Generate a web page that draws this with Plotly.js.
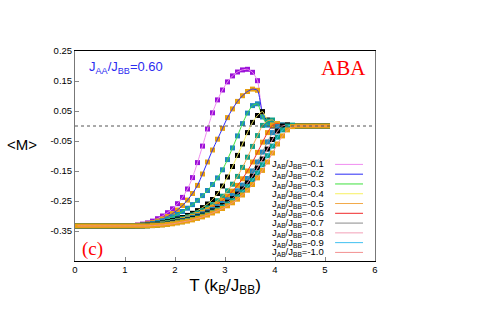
<!DOCTYPE html>
<html><head><meta charset="utf-8">
<script src="https://cdn.plot.ly/plotly-3.0.1.min.js"></script>
<style>html,body{margin:0;padding:0;background:#fff}#chart{width:500px;height:314px}</style>
</head><body><div id="chart"></div>
<script>
const T = [0.05,0.15,0.25,0.35,0.45,0.55,0.65,0.75,0.85,0.95,
1.05,1.15,1.25,1.35,1.45,1.55,1.65,1.75,1.85,1.95,
2.05,2.15,2.25,2.35,2.45,2.55,2.65,2.75,2.85,2.95,
3.05,3.15,3.25,3.35,3.45,3.55,3.65,3.75,3.85,3.95,
4.05,4.15,4.25,4.35,4.45,4.55,4.65,4.75,4.85,4.95,5.05];
const ratios = ["-0.1","-0.2","-0.3","-0.4","-0.5","-0.6","-0.7","-0.8","-0.9","-1.0"];
const m1 = [-0.333,-0.333,-0.333,-0.333,-0.333,-0.333,-0.333,-0.333,-0.333,-0.333,
-0.333,-0.332,-0.330,-0.327,-0.323,-0.317,-0.309,-0.300,-0.289,-0.276,
-0.259,-0.238,-0.210,-0.172,-0.122,-0.067,-0.010,0.044,0.087,0.120,
0.147,0.167,0.180,0.187,0.189,0.179,0.151,0.040,0.005,0,
0,0,0,0,0,0,0,0,0,0,0];
const m2 = [-0.333,-0.333,-0.333,-0.333,-0.333,-0.333,-0.333,-0.333,-0.333,-0.333,
-0.333,-0.332,-0.331,-0.329,-0.326,-0.322,-0.317,-0.310,-0.302,-0.292,
-0.280,-0.265,-0.247,-0.225,-0.198,-0.160,-0.120,-0.080,-0.044,-0.008,
0.028,0.057,0.082,0.101,0.115,0.123,0.119,0.040,0.005,0,
0,0,0,0,0,0,0,0,0,0,0];
const m3 = [-0.333,-0.333,-0.333,-0.333,-0.333,-0.333,-0.333,-0.333,-0.333,-0.333,
-0.333,-0.333,-0.332,-0.330,-0.328,-0.325,-0.321,-0.316,-0.310,-0.303,
-0.295,-0.285,-0.274,-0.262,-0.248,-0.232,-0.215,-0.195,-0.173,-0.146,
-0.112,-0.073,-0.033,0.008,0.043,0.068,0.074,0.030,0.003,0,
0,0,0,0,0,0,0,0,0,0,0];
const m4 = [-0.333,-0.333,-0.333,-0.333,-0.333,-0.333,-0.333,-0.333,-0.333,-0.333,
-0.333,-0.333,-0.332,-0.331,-0.330,-0.328,-0.326,-0.323,-0.319,-0.315,
-0.310,-0.305,-0.298,-0.291,-0.282,-0.272,-0.260,-0.245,-0.225,-0.200,
-0.170,-0.135,-0.098,-0.060,-0.022,0.012,0.035,0.048,0.020,0.003,
0,0,0,0,0,0,0,0,0,0,0];
const m5 = [-0.333,-0.333,-0.333,-0.333,-0.333,-0.333,-0.333,-0.333,-0.333,-0.333,
-0.333,-0.333,-0.333,-0.332,-0.331,-0.329,-0.327,-0.325,-0.322,-0.318,
-0.314,-0.309,-0.303,-0.297,-0.290,-0.282,-0.273,-0.262,-0.249,-0.234,
-0.216,-0.194,-0.168,-0.138,-0.104,-0.068,-0.032,0.002,0.017,0.020,
0.006,0.001,0,0,0,0,0,0,0,0,0];
const m6 = [-0.333,-0.333,-0.333,-0.333,-0.333,-0.333,-0.333,-0.333,-0.333,-0.333,
-0.333,-0.333,-0.333,-0.332,-0.331,-0.330,-0.328,-0.326,-0.324,-0.321,
-0.317,-0.312,-0.307,-0.301,-0.295,-0.288,-0.280,-0.271,-0.260,-0.248,
-0.234,-0.217,-0.198,-0.176,-0.150,-0.120,-0.088,-0.054,-0.022,0.003,
0.008,0.003,0,0,0,0,0,0,0,0,0];
const m7 = [-0.333,-0.333,-0.333,-0.333,-0.333,-0.333,-0.333,-0.333,-0.333,-0.333,
-0.333,-0.333,-0.333,-0.333,-0.332,-0.331,-0.329,-0.327,-0.325,-0.322,
-0.319,-0.315,-0.310,-0.305,-0.299,-0.293,-0.286,-0.278,-0.269,-0.258,
-0.246,-0.232,-0.216,-0.197,-0.175,-0.150,-0.120,-0.087,-0.053,-0.022,
-0.002,0.004,0.001,0,0,0,0,0,0,0,0];
const m8 = [-0.333,-0.333,-0.333,-0.333,-0.333,-0.333,-0.333,-0.333,-0.333,-0.333,
-0.333,-0.333,-0.333,-0.333,-0.332,-0.331,-0.330,-0.328,-0.326,-0.323,
-0.320,-0.317,-0.313,-0.308,-0.303,-0.297,-0.290,-0.283,-0.275,-0.265,
-0.254,-0.242,-0.227,-0.210,-0.190,-0.167,-0.140,-0.110,-0.077,-0.045,
-0.017,0.000,0.004,0.001,0,0,0,0,0,0,0];
const m9 = [-0.333,-0.333,-0.333,-0.333,-0.333,-0.333,-0.333,-0.333,-0.333,-0.333,
-0.333,-0.333,-0.333,-0.333,-0.333,-0.332,-0.331,-0.329,-0.327,-0.325,
-0.322,-0.319,-0.315,-0.311,-0.306,-0.300,-0.294,-0.287,-0.279,-0.270,
-0.260,-0.249,-0.236,-0.220,-0.202,-0.181,-0.157,-0.129,-0.099,-0.067,
-0.037,-0.013,0.000,0.003,0,0,0,0,0,0,0];
const m10 = [-0.333,-0.333,-0.333,-0.333,-0.333,-0.333,-0.333,-0.333,-0.333,-0.333,
-0.333,-0.333,-0.333,-0.333,-0.333,-0.332,-0.331,-0.330,-0.328,-0.326,
-0.323,-0.320,-0.317,-0.313,-0.308,-0.303,-0.297,-0.290,-0.283,-0.275,
-0.266,-0.256,-0.244,-0.230,-0.214,-0.195,-0.173,-0.148,-0.120,-0.090,
-0.060,-0.033,-0.013,-0.002,0,0,0,0,0,0,0];
const xTicks = [0,1,2,3,4,5,6];
const yTicks = [-0.35,-0.25,-0.15,-0.05,0.05,0.15,0.25];

const series = [m1,m2,m3,m4,m5,m6,m7,m8,m9,m10];
const lineColors = ["#f08cf0","#2a2af5","#3ee03e","#f8f060","#f2a948","#f02a2a","#8a8a8a","#f2a0b8","#40c0f0","#f29090"];
const markerColors = ["#9a10d8","#e8a010","#1e88c0","#000000","#10a088","#e8a010","#1e88c0","#000000","#10a088","#e8a010"];

const traces = [];
series.forEach((m,i)=>{
  traces.push({x:T,y:m,type:'scatter',mode:'markers',showlegend:false,hoverinfo:'skip',
    marker:{symbol:'square',size:5,color:markerColors[i],line:{width:0}}});
  traces.push({x:T,y:m,type:'scatter',mode:'lines',showlegend:false,
    line:{color:lineColors[i],width:1,shape:'spline',smoothing:0.6}});
});

const annotations = [
  {xref:'paper',yref:'paper',x:0.04,y:0.92,xanchor:'left',yanchor:'middle',showarrow:false,
   text:'J<sub>AA</sub>/J<sub>BB</sub>=0.60',font:{family:'Liberation Sans, Arial, sans-serif',size:13,color:'#2b2bf0'}},
  {xref:'paper',yref:'paper',x:0.975,y:0.92,xanchor:'right',yanchor:'middle',showarrow:false,
   text:'ABA',font:{family:'Liberation Serif, Times New Roman, serif',size:21,color:'#ff0000'}},
  {xref:'paper',yref:'paper',x:0.015,y:0.055,xanchor:'left',yanchor:'middle',showarrow:false,
   text:'(c)',font:{family:'Liberation Serif, Times New Roman, serif',size:19,color:'#ff0000'}},
  {xref:'paper',yref:'paper',x:-0.12,y:0.555,xanchor:'right',yanchor:'middle',showarrow:false,
   text:'&lt;M&gt;',font:{family:'Liberation Sans, Arial, sans-serif',size:15,color:'#000'}},
];
const shapes = [
  {type:'line',xref:'paper',yref:'y',x0:0,x1:1,y0:0,y1:0,line:{color:'#555',width:1,dash:'dot'}}
];
const legTop = -0.128, legStep = 0.0326;
ratios.forEach((r,i)=>{
  const yy = legTop - i*legStep;
  annotations.push({xref:'paper',yref:'y',x:0.835,y:yy,xanchor:'right',yanchor:'middle',showarrow:false,
    text:'J<sub>AB</sub>/J<sub>BB</sub>='+r,font:{family:'Liberation Sans, Arial, sans-serif',size:9.5,color:'#000'}});
  shapes.push({type:'line',xref:'paper',yref:'y',x0:0.867,x1:0.96,y0:yy,y1:yy,line:{color:lineColors[i],width:1}});
});

const layout = {
  width:500,height:314,
  margin:{l:75,r:125,t:51,b:53},
  paper_bgcolor:'#fff',plot_bgcolor:'#fff',
  font:{family:'Liberation Sans, Arial, sans-serif',color:'#000'},
  xaxis:{range:[0,6],tickvals:xTicks,ticks:'inside',ticklen:4,tickcolor:'#888',tickwidth:1,
    showline:true,linecolor:'#000',linewidth:1,mirror:true,showgrid:false,zeroline:false,
    tickfont:{size:9.5},
    title:{text:'T (k<sub>B</sub>/J<sub>BB</sub>)',font:{size:17},standoff:4}},
  yaxis:{range:[-0.45,0.25],tickvals:yTicks,ticktext:yTicks.map(v=>v.toFixed(2)),ticks:'inside',ticklen:4,tickcolor:'#888',tickwidth:1,
    showline:true,linecolor:'#777',linewidth:1,mirror:true,showgrid:false,zeroline:false,
    tickfont:{size:9.5}},
  annotations:annotations,
  shapes:shapes
};
Plotly.newPlot('chart',traces,layout,{displayModeBar:false,staticPlot:true});
</script>
</body></html>
